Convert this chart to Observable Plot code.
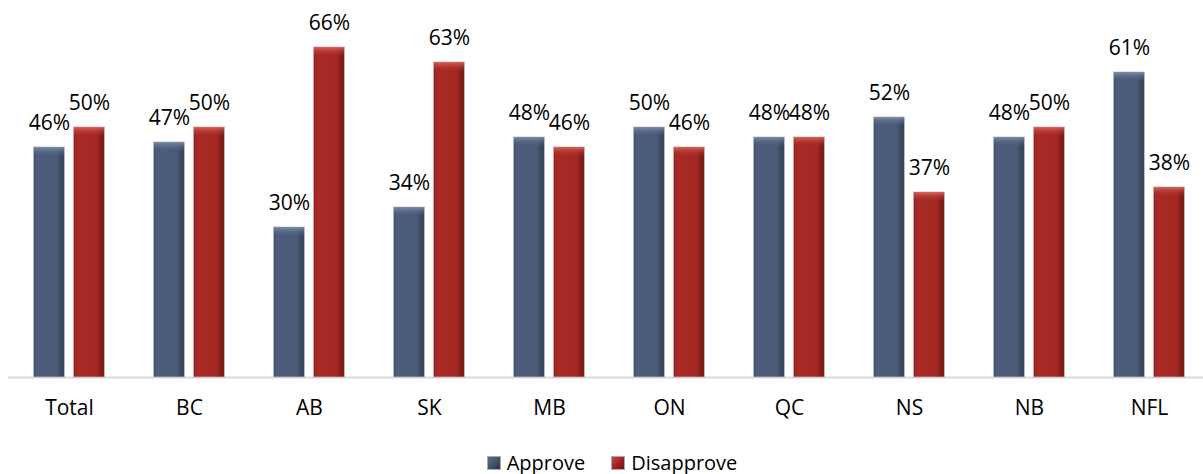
<!DOCTYPE html>
<html>
<head>
<meta charset="utf-8">
<script src="https://cdn.jsdelivr.net/npm/d3@7"></script>
<script src="https://cdn.jsdelivr.net/npm/@observablehq/plot@0.6"></script>
<style>
  html, body { margin: 0; padding: 0; background: #fff; }
  body { width: 1203px; height: 474px; overflow: hidden; font-family: "Open Sans", sans-serif; }
  #legend { height: 29px; display: flex; justify-content: center; align-items: center; padding-left: 21px; padding-top: 3px; font-size: 20px; color: #000; }
  .item { display: flex; align-items: center; margin: 0 13px; }
  .sw { width: 14px; height: 14px; margin-right: 6px; box-sizing: border-box; border: 1px solid #aaa; }
</style>
</head>
<body>
<div id="chart"></div>
<div id="legend"></div>
<script>
const categories = ["Total", "BC", "AB", "SK", "MB", "ON", "QC", "NS", "NB", "NFL"];
const approve = [46, 47, 30, 34, 48, 50, 48, 52, 48, 61];
const disapprove = [50, 50, 66, 63, 46, 46, 48, 37, 50, 38];
const seriesNames = ["Approve", "Disapprove"];

const data = categories.map((c, i) => ({cat: c, approve: approve[i], disapprove: disapprove[i]}));
const bevel = 1.7;

const chart = Plot.plot({
  width: 1203,
  height: 445,
  marginLeft: 8,
  marginRight: 0,
  marginTop: 0,
  marginBottom: 68,
  style: {fontFamily: "Open Sans, sans-serif", color: "#000", background: "#fff"},
  x: {domain: categories, range: [7.5, 1209.5], padding: 0, label: null},
  y: {domain: [0, 70], range: [377, 27], axis: null},
  marks: [
    Plot.ruleY([0], {stroke: "#d9d9d9", strokeWidth: 2}),
    Plot.barY(data, {x: "cat", y: "approve", insetLeft: 24.5, insetRight: 64.7, fill: "url(#gA)", stroke: "#b8bcc4", strokeWidth: 0.8}),
    Plot.barY(data, {x: "cat", y1: d => d.approve - bevel, y2: "approve", insetLeft: 25, insetRight: 65.2, fill: "url(#gAtop)"}),
    Plot.barY(data, {x: "cat", y: "disapprove", insetLeft: 64.5, insetRight: 24.7, fill: "url(#gD)", stroke: "#c9b0ae", strokeWidth: 0.8}),
    Plot.barY(data, {x: "cat", y1: d => d.disapprove - bevel, y2: "disapprove", insetLeft: 65, insetRight: 25.2, fill: "url(#gDtop)"}),
    Plot.text(data, {x: "cat", y: "approve", text: d => d.approve + "%", dx: -20, dy: -18, lineAnchor: "bottom", fontSize: 21, fill: "#000"}),
    Plot.text(data, {x: "cat", y: "disapprove", text: d => d.disapprove + "%", dx: 20, dy: -18, lineAnchor: "bottom", fontSize: 21, fill: "#000"}),
    Plot.axisX({tickSize: 0, tickPadding: 23, fontSize: 21, label: null, fill: "#000"})
  ]
});

const defs = d3.select(chart).insert("defs", ":first-child");
function hgrad(id, stops) {
  const g = defs.append("linearGradient").attr("id", id).attr("x1", 0).attr("x2", 1).attr("y1", 0).attr("y2", 0);
  stops.forEach(([o, c]) => g.append("stop").attr("offset", o).attr("stop-color", c));
}
function vgrad(id, stops) {
  const g = defs.append("linearGradient").attr("id", id).attr("x1", 0).attr("x2", 0).attr("y1", 0).attr("y2", 1);
  stops.forEach(([o, c, op]) => g.append("stop").attr("offset", o).attr("stop-color", c).attr("stop-opacity", op == null ? 1 : op));
}
hgrad("gA", [[0, "#3f4f69"], [0.1, "#4c5d7a"], [0.75, "#4a5b77"], [0.9, "#3a4860"], [1, "#2b374b"]]);
hgrad("gD", [[0, "#93221d"], [0.1, "#a82a25"], [0.75, "#a42824"], [0.9, "#861c18"], [1, "#651410"]]);
vgrad("gAtop", [[0, "#7d8ca8"], [1, "#4c5d7a", 0.2]]);
vgrad("gDtop", [[0, "#d6645b"], [1, "#a82a25", 0.2]]);

document.getElementById("chart").appendChild(chart);

const legend = document.getElementById("legend");
const swatch = {Approve: "linear-gradient(135deg, #5d6d89, #44546f 50%, #2a364a)", Disapprove: "linear-gradient(135deg, #c9473f, #a42622 50%, #6a1410)"};
seriesNames.forEach(name => {
  const item = document.createElement("div");
  item.className = "item";
  const sw = document.createElement("div");
  sw.className = "sw";
  sw.style.background = swatch[name];
  const t = document.createElement("span");
  t.textContent = name;
  item.appendChild(sw);
  item.appendChild(t);
  legend.appendChild(item);
});
</script>
</body>
</html>
